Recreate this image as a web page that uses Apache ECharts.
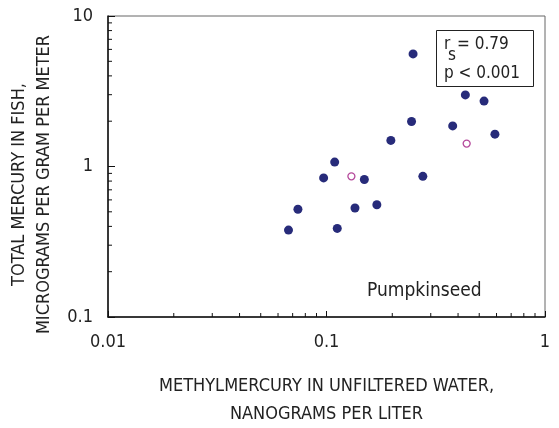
<!DOCTYPE html>
<html>
<head>
<meta charset="utf-8">
<script src="https://cdn.jsdelivr.net/npm/echarts@6/dist/echarts.min.js"></script>
<style>
  html, body { margin: 0; padding: 0; background: #fff; }
  #chart { width: 559px; height: 428px; }
</style>
</head>
<body>
<div id="chart"></div>
<script>
// filled dots: [methylmercury ng/L, total mercury in fish]
const filledPoints = [
  [0.067, 0.378], [0.074, 0.52], [0.097, 0.84], [0.109, 1.07],
  [0.112, 0.388], [0.135, 0.53], [0.149, 0.82], [0.170, 0.557],
  [0.197, 1.49], [0.245, 1.99], [0.249, 5.6], [0.276, 0.86],
  [0.378, 1.86], [0.432, 2.99], [0.526, 2.72], [0.590, 1.64]
];
// open circles
const openPoints = [[0.130, 0.86], [0.438, 1.42]];

const xTickLabels = ['0.01', '0.1', '1'];
const yTickLabels = ['0.1', '1', '10'];
const xMinorTicks = [0.02, 0.03, 0.04, 0.05, 0.06, 0.07, 0.08, 0.09, 0.2, 0.3, 0.4, 0.5, 0.6, 0.7, 0.8, 0.9];
const yMinorTicks = [0.2, 0.3, 0.4, 0.5, 0.6, 0.7, 0.8, 0.9, 2, 3, 4, 5, 6, 7, 8, 9];

const font = '"Liberation Sans Narrow", "DejaVu Sans Condensed", sans-serif';
const chart = echarts.init(document.getElementById('chart'));

function tickLine(x1, y1, x2, y2) {
  return { type: 'line', z2: 100, shape: { x1, y1, x2, y2 }, style: { stroke: '#111', lineWidth: 1 } };
}

const option = {
  animation: false,
  grid: {
    left: 108, right: 14, top: 16, bottom: 111, outerBoundsMode: 'none', containLabel: false,
    show: true, borderColor: '#666', borderWidth: 1
  },
  xAxis: {
    type: 'log', logBase: 10, min: 0.01, max: 1,
    name: 'METHYLMERCURY IN UNFILTERED WATER,\nNANOGRAMS PER LITER',
    nameLocation: 'middle', nameGap: 55,
    nameTextStyle: { fontFamily: font, fontSize: 18, color: '#222', lineHeight: 28 },
    axisLine: { lineStyle: { color: '#111', width: 1.5 } },
    axisTick: { inside: true, length: 6, lineStyle: { color: '#111' } },
    axisLabel: {
      fontFamily: font, fontSize: 18, color: '#222', margin: 16,
      formatter: (v) => xTickLabels.find(t => Math.abs(parseFloat(t) - v) < 1e-9) || ''
    },
    splitLine: { show: false }
  },
  yAxis: {
    type: 'log', logBase: 10, min: 0.1, max: 10,
    name: 'TOTAL MERCURY IN FISH,\nMICROGRAMS PER GRAM PER METER',
    nameLocation: 'middle', nameGap: 50, nameRotate: 90,
    nameTextStyle: { fontFamily: font, fontSize: 18, color: '#222', lineHeight: 25, padding: [0, 36, 0, 0] },
    axisLine: { lineStyle: { color: '#111', width: 1.5 } },
    axisTick: { inside: true, length: 7, lineStyle: { color: '#111' } },
    axisLabel: {
      fontFamily: font, fontSize: 18, color: '#222', margin: 15,
      formatter: (v) => yTickLabels.find(t => Math.abs(parseFloat(t) - v) < 1e-9) || ''
    },
    splitLine: { show: false }
  },
  series: [
    {
      type: 'scatter', data: filledPoints, symbol: 'circle', symbolSize: 9,
      itemStyle: { color: '#272b7a', opacity: 1 }
    },
    {
      type: 'scatter', data: openPoints, symbol: 'circle', symbolSize: 7,
      itemStyle: { color: '#fff', borderColor: '#b5489b', borderWidth: 1.3, opacity: 1 }
    },
    {
      type: 'custom', silent: true, clip: false, z: 10,
      encode: { x: 0, y: 1 },
      data: xMinorTicks.map(v => [v, 0.1]),
      renderItem: (params, api) => {
        const p = api.coord([api.value(0), api.value(1)]);
        return tickLine(p[0], p[1], p[0], p[1] - 4);
      }
    },
    {
      type: 'custom', silent: true, clip: false, z: 10,
      encode: { x: 0, y: 1 },
      data: yMinorTicks.map(v => [0.01, v]),
      renderItem: (params, api) => {
        const p = api.coord([api.value(0), api.value(1)]);
        return tickLine(p[0], p[1], p[0] + 4, p[1]);
      }
    }
  ],
  graphic: [
    {
      type: 'rect', left: 436, top: 30,
      shape: { width: 97, height: 56 },
      style: { fill: '#fff', stroke: '#222', lineWidth: 1 }
    },
    {
      type: 'text', left: 444, top: 36,
      style: { text: 'r', fontFamily: font, fontSize: 17, fill: '#222' }
    },
    {
      type: 'text', left: 448, top: 47,
      style: { text: 's', fontFamily: font, fontSize: 17, fill: '#222' }
    },
    {
      type: 'text', left: 457, top: 36,
      style: { text: '= 0.79', fontFamily: font, fontSize: 17, fill: '#222' }
    },
    {
      type: 'text', left: 444, top: 65,
      style: { text: 'p < 0.001', fontFamily: font, fontSize: 17, fill: '#222' }
    },
    {
      type: 'text', left: 367, top: 282,
      style: { text: 'Pumpkinseed', fontFamily: font, fontSize: 19, fill: '#222' }
    }
  ]
};

chart.setOption(option);
</script>
</body>
</html>
